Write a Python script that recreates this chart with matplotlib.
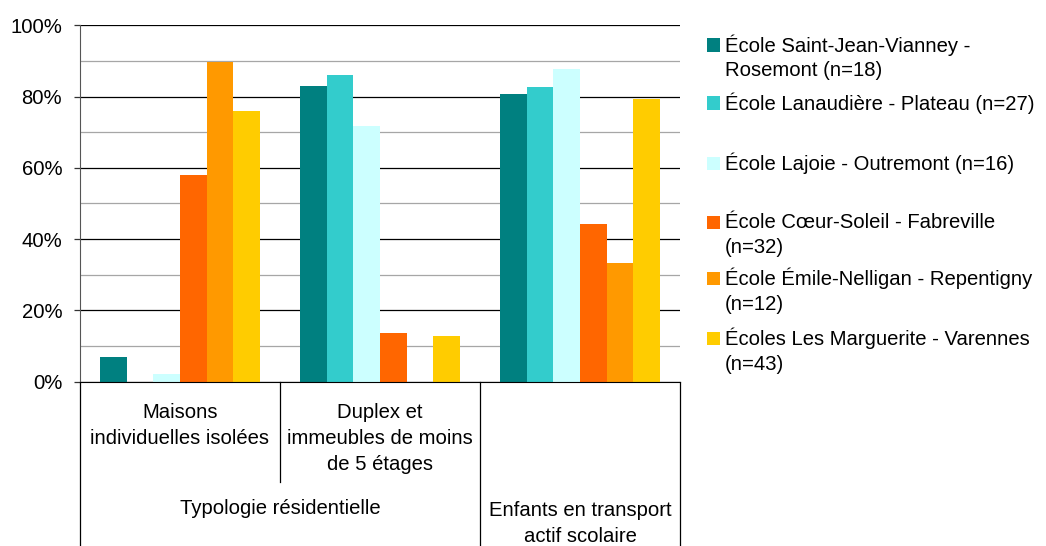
import matplotlib
matplotlib.use("Agg")
import matplotlib.pyplot as plt
from matplotlib.lines import Line2D
from matplotlib.patches import Rectangle
import numpy as np

plt.rcParams['font.family'] = ['Liberation Sans', 'DejaVu Sans']

# ---------------- data ----------------
categories = ["Maisons\nindividuelles isolées",
              "Duplex et\nimmeubles de moins\nde 5 étages",
              ""]
super_categories = ["Typologie résidentielle", "Enfants en transport\nactif scolaire"]
super_spans = [(0, 1), (2, 2)]

series_names = ["École Saint-Jean-Vianney -\nRosemont (n=18)",
                "École Lanaudière - Plateau (n=27)",
                "École Lajoie - Outremont (n=16)",
                "École Cœur-Soleil - Fabreville\n(n=32)",
                "École Émile-Nelligan - Repentigny\n(n=12)",
                "Écoles Les Marguerite - Varennes\n(n=43)"]
colors = ["#008080", "#33CCCC", "#CCFFFF", "#FF6600", "#FF9900", "#FFCC00"]

saint_jean = [6.9, 83.0, 80.7]
lanaudiere = [0.0, 86.1, 82.7]
lajoie = [2.2, 71.8, 87.7]
coeur_soleil = [58.0, 13.7, 44.2]
emile_nelligan = [89.7, 0.0, 33.3]
marguerite = [76.0, 12.8, 79.3]
series_values = [saint_jean, lanaudiere, lajoie, coeur_soleil, emile_nelligan, marguerite]

yticks = [0, 20, 40, 60, 80, 100]
ytick_labels = ["0%", "20%", "40%", "60%", "80%", "100%"]

FS = 14.6

# ---------------- figure ----------------
W, H = 1046, 546
fig = plt.figure(figsize=(W / 100, H / 100), dpi=100)
left, right, top, bottom = 80, 680, 25.3, 381.7
ax = fig.add_axes([left / W, 1 - bottom / H, (right - left) / W, (bottom - top) / H])

n = len(series_values)
x = np.arange(len(categories))
bw = 0.8 / n
for i, (vals, c) in enumerate(zip(series_values, colors)):
    ax.bar(x - 0.4 + bw * (i + 0.5), vals, width=bw, color=c, edgecolor='none', zorder=3)

ax.set_xlim(-0.5, len(categories) - 0.5)
ax.set_ylim(0, 100)
ax.set_yticks(yticks)
ax.set_yticklabels(ytick_labels, fontsize=FS)
ax.set_yticks(np.arange(10, 100, 20), minor=True)
ax.tick_params(axis='y', which='major', length=4.3, width=0.9, color='#333333', pad=8.5, direction='out')
ax.tick_params(axis='y', which='minor', length=0)
ax.set_xticks([])
ax.grid(axis='y', which='major', color='#000000', linewidth=0.9, zorder=1)
ax.grid(axis='y', which='minor', color='#A6A6A6', linewidth=0.9, zorder=1)
ax.set_axisbelow(True)
for s in ['top', 'right']:
    ax.spines[s].set_visible(False)
ax.spines['left'].set_color('#555555')
ax.spines['bottom'].set_color('#000000')
ax.spines['bottom'].set_zorder(4)

# category axis (multi-level)
tr = ax.get_xaxis_transform()
unit = bottom - top
def yax(py):
    return -(py - bottom) / unit

lstyle = dict(color='black', linewidth=0.9, transform=tr, clip_on=False)
for xb in [-0.5, 1.5, 2.5]:
    ax.add_line(Line2D([xb, xb], [0, yax(546)], **lstyle))
ax.add_line(Line2D([0.5, 0.5], [0, yax(482)], **lstyle))

line_h = 26.5
for xi, lab in zip(x, categories):
    for j, ln in enumerate(lab.split("\n")):
        if ln:
            ax.text(xi, yax(412 + j * line_h), ln, transform=tr, ha='center', va='center', fontsize=FS)

super_y = [508, 510]
for (a, b), lab, sy in zip(super_spans, super_categories, super_y):
    xc = (a + b) / 2
    for j, ln in enumerate(lab.split("\n")):
        ax.text(xc, yax(sy + j * line_h), ln, transform=tr, ha='center', va='center', fontsize=FS)

# legend (manual to match layout)
leg_y = [45, 103, 163, 222, 278, 338]
sq = 13
for name, c, ly in zip(series_names, colors, leg_y):
    fig.patches.append(Rectangle((707 / W, 1 - (ly + sq / 2) / H), sq / W, sq / H,
                                 transform=fig.transFigure, facecolor=c, edgecolor='none'))
    for j, ln in enumerate(name.split("\n")):
        fig.text(725 / W, 1 - (ly + j * 26) / H, ln, ha='left', va='center', fontsize=FS)

fig.savefig("out.png", dpi=100)
